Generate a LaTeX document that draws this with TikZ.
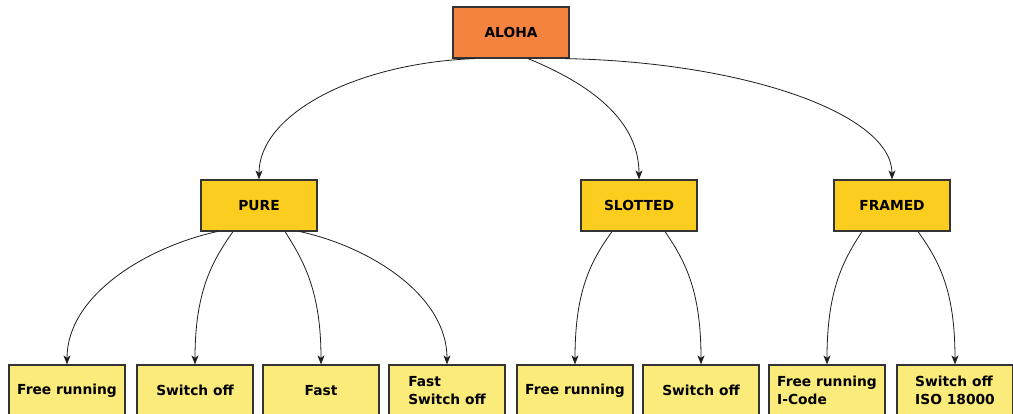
\documentclass[tikz,border=0pt]{standalone}
\usepackage{fontspec}
\setmainfont{DejaVu Sans}
\usetikzlibrary{arrows.meta}
\definecolor{cOrange}{HTML}{F58340}
\definecolor{cGold}{HTML}{FBCD1E}
\definecolor{cLight}{HTML}{FAEB7A}
\definecolor{cEdge}{HTML}{333333}
\definecolor{cLine}{HTML}{1E1E1E}
\tikzset{
  box/.style={draw=cEdge, line width=1.2pt, minimum width=116pt, minimum height=51pt,
    inner sep=0pt, text=black, align=left,
    font=\bfseries\fontsize{13.8}{17.5}\selectfont},
  rootbox/.style={box, fill=cOrange},
  midbox/.style={box, fill=cGold},
  leafbox/.style={box, fill=cLight},
  link/.style={draw=cLine, line width=0.8pt, -{Stealth[length=9pt,width=7pt,inset=2.5pt]}}
}
\begin{document}
\begin{tikzpicture}[x=1pt, y=-1pt]
\useasboundingbox (0,0) rectangle (1013,414);
\clip (0,0) rectangle (1013,414);
\fill[white] (0,0) rectangle (1013,414);
% nodes
\node[rootbox] (aloha) at (511,32.5) {ALOHA};
\node[midbox] (pure) at (259,205.5) {PURE};
\node[midbox] (slotted) at (639,205.5) {SLOTTED};
\node[midbox] (framed) at (892,205.5) {FRAMED};
\node[leafbox] (l1) at (67,390.5) {Free running};
\node[leafbox] (l2) at (195,390.5) {Switch off};
\node[leafbox] (l3) at (321,390.5) {Fast};
\node[leafbox] (l4) at (447,390.5) {Fast\\Switch off};
\node[leafbox] (l5) at (575,390.5) {Free running};
\node[leafbox] (l6) at (701,390.5) {Switch off};
\node[leafbox] (l7) at (827,390.5) {Free running\\I-Code};
\node[leafbox] (l8) at (955,390.5) {Switch off\\ISO 18000};
% connectors from ALOHA
\draw[link] ([xshift=-36pt]aloha.south) .. controls (356,63) and (259,114) .. (pure.north);
\draw[link] ([xshift=17pt]aloha.south) .. controls (590,84) and (639,120) .. (slotted.north);
\draw[link] ([xshift=54pt]aloha.south) .. controls (745,62) and (892,114) .. (framed.north);
% connectors from PURE
\draw[link] ([xshift=-42pt]pure.south) .. controls (147,247) and (67,295) .. (l1.north);
\draw[link] ([xshift=-26pt]pure.south) .. controls (213,260) and (195,290) .. (l2.north);
\draw[link] ([xshift=26pt]pure.south) .. controls (303,260) and (321,290) .. (l3.north);
\draw[link] ([xshift=41pt]pure.south) .. controls (370,247) and (447,295) .. (l4.north);
% connectors from SLOTTED
\draw[link] ([xshift=-27pt]slotted.south) .. controls (590,262) and (575,292) .. (l5.north);
\draw[link] ([xshift=26pt]slotted.south) .. controls (686,262) and (701,292) .. (l6.north);
% connectors from FRAMED
\draw[link] ([xshift=-30pt]framed.south) .. controls (842,262) and (827,292) .. (l7.north);
\draw[link] ([xshift=26pt]framed.south) .. controls (940,262) and (955,292) .. (l8.north);
\end{tikzpicture}
\end{document}
